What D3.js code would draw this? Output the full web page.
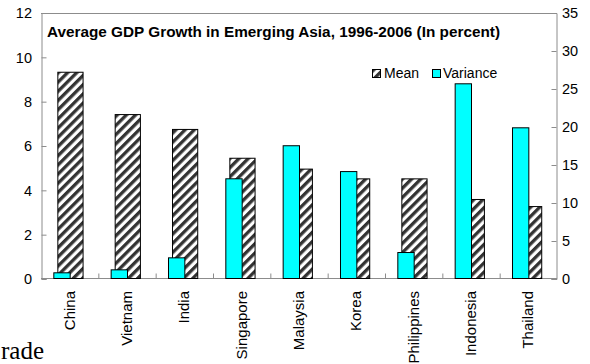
<!DOCTYPE html>
<html>
<head>
<meta charset="utf-8">
<script src="https://cdn.jsdelivr.net/npm/d3@7/dist/d3.min.js"></script>
<style>
  html, body { margin: 0; padding: 0; background: #fff; }
  svg { display: block; }
  text { font-family: Arial, "Liberation Sans", sans-serif; fill: #000; }
</style>
</head>
<body>
<svg id="chart" width="590" height="364"></svg>
<script>
// Countries along the category axis
const countries = ["China", "Vietnam", "India", "Singapore", "Malaysia", "Korea", "Philippines", "Indonesia", "Thailand"];
// Mean GDP growth, percent (left axis)
const meanGrowth = [9.35, 7.44, 6.77, 5.47, 4.98, 4.54, 4.54, 3.61, 3.29];
// Variance of GDP growth (right axis)
const varianceGrowth = [0.88, 1.27, 2.85, 13.25, 17.6, 14.2, 3.55, 25.75, 19.96];
// Axis ticks
const leftTicks = [0, 2, 4, 6, 8, 10, 12];
const rightTicks = [0, 5, 10, 15, 20, 25, 30, 35];
const seriesNames = ["Mean", "Variance"];
const titleText = "Average GDP Growth in Emerging Asia, 1996-2006 (In percent)";

const svg = d3.select("#chart");
const plot = { left: 41, right: 557, top: 13, bottom: 279 };
const frameColor = "#8c8c8c";

// Diagonal hatch used by the Mean series
const defs = svg.append("defs");
const pat = defs.append("pattern")
  .attr("id", "hatch")
  .attr("patternUnits", "userSpaceOnUse")
  .attr("width", 6.5).attr("height", 6.5)
  .attr("patternTransform", "rotate(45)");
pat.append("rect").attr("width", 6.5).attr("height", 6.5).attr("fill", "#fff");
pat.append("rect").attr("width", 3.3).attr("height", 6.5).attr("fill", "#333");

const x = d3.scaleBand().domain(countries).range([plot.left, plot.right]).padding(0);
const yL = d3.scaleLinear().domain([0, 12]).range([plot.bottom, plot.top]);
const yR = d3.scaleLinear().domain([0, 35]).range([plot.bottom, plot.top]);
const bw = x.bandwidth();

// Plot frame (top edge)
svg.append("line")
  .attr("x1", plot.left).attr("x2", plot.right)
  .attr("y1", plot.top + 0.5).attr("y2", plot.top + 0.5)
  .attr("stroke", frameColor);

// Left and right value axes, ticks pointing inward
const gL = svg.append("g").attr("transform", `translate(${plot.left + 0.5},0)`)
  .call(d3.axisRight(yL).tickValues(leftTicks).tickSize(5).tickFormat(""));
const gR = svg.append("g").attr("transform", `translate(${plot.right - 0.5},0)`)
  .call(d3.axisLeft(yR).tickValues(rightTicks).tickSize(5).tickFormat(""));
[gL, gR].forEach(g => {
  g.select(".domain").attr("stroke", frameColor);
  g.selectAll(".tick line").attr("stroke", frameColor);
});

// Tick labels
svg.append("g").selectAll("text").data(leftTicks).join("text")
  .attr("x", 32).attr("y", d => yL(d)).attr("dy", "0.36em")
  .attr("text-anchor", "end").attr("font-size", 14.5).text(d => d);
svg.append("g").selectAll("text").data(rightTicks).join("text")
  .attr("x", 562).attr("y", d => yR(d)).attr("dy", "0.36em")
  .attr("text-anchor", "start").attr("font-size", 14.5).text(d => d);

// Category axis with separators between groups
const gX = svg.append("g").attr("transform", `translate(0,${plot.bottom - 0.5})`);
gX.append("line").attr("x1", plot.left).attr("x2", plot.right).attr("stroke", frameColor);
gX.selectAll("line.sep").data(countries.slice(1)).join("line")
  .attr("class", "sep")
  .attr("x1", d => x(d) + 0.5).attr("x2", d => x(d) + 0.5)
  .attr("y1", 0).attr("y2", -5).attr("stroke", frameColor);

// Mean bars (hatched)
svg.append("g").selectAll("rect").data(countries).join("rect")
  .attr("x", d => x(d) + bw * 0.285 + 0.5)
  .attr("width", bw * 0.44)
  .attr("y", (d, i) => yL(meanGrowth[i]) + 0.5)
  .attr("height", (d, i) => plot.bottom - yL(meanGrowth[i]) - 1)
  .attr("fill", "url(#hatch)").attr("stroke", "#000").attr("stroke-width", 1);

// Variance bars (cyan, drawn in front)
svg.append("g").selectAll("rect").data(countries).join("rect")
  .attr("x", d => x(d) + bw * 0.215 + 0.5)
  .attr("width", bw * 0.285)
  .attr("y", (d, i) => yR(varianceGrowth[i]) + 0.5)
  .attr("height", (d, i) => plot.bottom - yR(varianceGrowth[i]) - 1)
  .attr("fill", "#00ffff").attr("stroke", "#000").attr("stroke-width", 1);

// Category labels, rotated
svg.append("g").selectAll("text").data(countries).join("text")
  .attr("transform", d => `translate(${x(d) + bw / 2 + 5},291) rotate(-90)`)
  .attr("text-anchor", "end").attr("font-size", 15).text(d => d);

// Title
svg.append("text").attr("x", 47).attr("y", 37)
  .attr("font-size", 14.5).attr("font-weight", "bold")
  .attr("textLength", 453).attr("lengthAdjust", "spacingAndGlyphs")
  .text(titleText);

// Legend
const legend = svg.append("g");
const legendItems = [
  { name: seriesNames[0], fill: "url(#hatch)", sx: 372, tx: 384 },
  { name: seriesNames[1], fill: "#00ffff", sx: 432, tx: 443 }
];
legend.selectAll("rect").data(legendItems).join("rect")
  .attr("x", d => d.sx + 0.5).attr("y", 69.5).attr("width", 8).attr("height", 8)
  .attr("fill", d => d.fill).attr("stroke", "#000");
legend.selectAll("text").data(legendItems).join("text")
  .attr("x", d => d.tx).attr("y", 78).attr("font-size", 14).text(d => d.name);

// Fragment of surrounding page text
svg.append("text").attr("x", 1).attr("y", 359)
  .style("font-family", "'Liberation Serif', 'Times New Roman', serif")
  .attr("font-size", 25).text("rade");
</script>
</body>
</html>
